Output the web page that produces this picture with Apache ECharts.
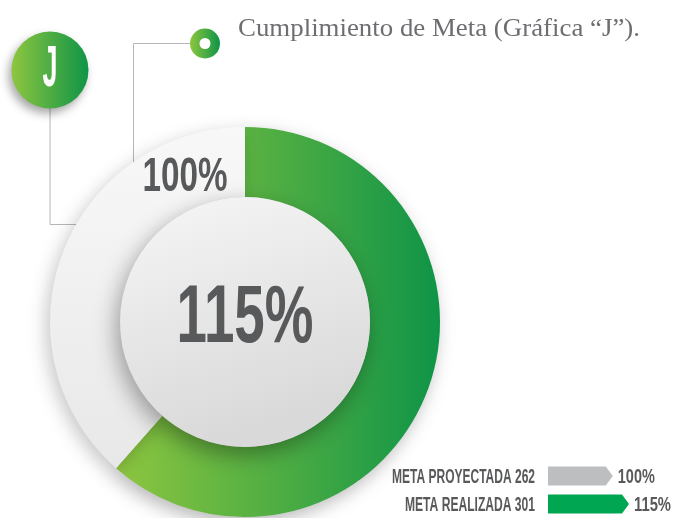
<!DOCTYPE html>
<html>
<head>
<meta charset="utf-8">
<script src="https://cdn.jsdelivr.net/npm/echarts@6/dist/echarts.min.js"></script>
<style>
  html, body { margin: 0; padding: 0; background: #ffffff; }
  #chart { width: 673px; height: 518px; }
</style>
</head>
<body>
<div id="chart"></div>
<script>
// Goal figures: projected vs. achieved
const metaNames   = ['META PROYECTADA', 'META REALIZADA'];
const metaCounts  = [262, 301];
const metaPercent = [100, 115];

// Donut split: achieved share and the remaining ring
const ringValues  = [115, 72];

const titleText  = 'Cumplimiento de Meta (Gráfica “J”).';
const badgeText  = 'J';

const GREEN_L = '#8dc63f';
const GREEN_D = '#0f9447';
const TEXT_DARK = '#58595b';

// Horizontal scale factor so a string fills a given width (condensed look)
const measureCtx = document.createElement('canvas').getContext('2d');
function fit(text, font, width) {
  measureCtx.font = font;
  return width / measureCtx.measureText(text).width;
}

function condensedText(text, x, y, font, width, color, align, z) {
  return {
    type: 'text',
    x: x, y: y,
    scaleX: fit(text, font, width),
    z: z || 10,
    silent: true,
    style: {
      text: text, x: 0, y: 0, font: font, fill: color,
      align: align || 'center', verticalAlign: 'middle',
      textAlign: align || 'center', textVerticalAlign: 'middle'
    }
  };
}

const hGrad = () => new echarts.graphic.LinearGradient(0, 0, 1, 0, [
  { offset: 0, color: GREEN_L }, { offset: 1, color: GREEN_D }
]);

const chart = echarts.init(document.getElementById('chart'), null, { renderer: 'canvas' });

const bigFont = 'bold 81px "Liberation Sans"';
const midFont = 'bold 48px "Liberation Sans"';
const capFont = 'bold 20px "Liberation Sans"';

const option = {
  animation: false,
  backgroundColor: '#ffffff',
  grid: { left: 548, top: 462, width: 108, height: 63 },
  xAxis: { type: 'value', min: 40, max: 140, show: false },
  yAxis: { type: 'category', data: metaNames, inverse: true, show: false },
  graphic: [
    // connector from the badge down to the ring
    { type: 'polyline', z: 0, silent: true,
      shape: { points: [[50, 100], [50, 224.5], [80, 224.5]] },
      style: { stroke: '#b5b6b8', lineWidth: 1, fill: null } },
    // connector from the title marker down to the ring
    { type: 'polyline', z: 0, silent: true,
      shape: { points: [[195, 43.5], [133.5, 43.5], [133.5, 170]] },
      style: { stroke: '#b5b6b8', lineWidth: 1, fill: null } },
    // badge
    { type: 'circle', z: 5, silent: true,
      shape: { cx: 50, cy: 70, r: 38.5 },
      style: { fill: hGrad(), shadowBlur: 10, shadowOffsetX: -3, shadowOffsetY: 5,
               shadowColor: 'rgba(0,0,0,0.35)' } },
    condensedText(badgeText, 50, 70, 'bold 58px "Liberation Sans"', 15, '#ffffff', 'center', 6),
    // title marker
    { type: 'circle', z: 5, silent: true,
      shape: { cx: 205, cy: 43.5, r: 15 },
      style: { fill: hGrad() } },
    { type: 'circle', z: 6, silent: true,
      shape: { cx: 205, cy: 43.5, r: 5.5 },
      style: { fill: '#ffffff' } },
    // title
    condensedText(titleText, 238, 29, '25px "Liberation Serif"', 402, '#6d6e71', 'left', 10),
    // ring and centre values
    condensedText(metaPercent[1] + '%', 245, 320, bigFont, 137, TEXT_DARK, 'center', 20),
    condensedText(metaPercent[0] + '%', 185, 178, midFont, 85, TEXT_DARK, 'center', 20)
  ],
  series: [
    {
      type: 'pie',
      z: 2,
      silent: true,
      center: [245, 322],
      radius: [125, 195],
      startAngle: 90,
      clockwise: true,
      label: { show: false },
      labelLine: { show: false },
      emphasis: { disabled: true },
      data: [
        { value: ringValues[0], itemStyle: {
            color: new echarts.graphic.LinearGradient(0, 0, 1, 0, [
              { offset: 0, color: GREEN_L }, { offset: 1, color: GREEN_D }]),
            shadowBlur: 18, shadowOffsetX: -4, shadowOffsetY: 6, shadowColor: 'rgba(0,0,0,0.28)' } },
        { value: ringValues[1], itemStyle: {
            color: new echarts.graphic.LinearGradient(0, 0, 0, 1, [
              { offset: 0, color: '#f8f8f8' }, { offset: 1, color: '#e8e8e9' }]),
            shadowBlur: 18, shadowOffsetX: -4, shadowOffsetY: 6, shadowColor: 'rgba(0,0,0,0.22)' } }
      ]
    },
    {
      // raised centre disc
      type: 'pie',
      z: 3,
      silent: true,
      center: [245, 322],
      radius: [0, 125],
      label: { show: false },
      labelLine: { show: false },
      emphasis: { disabled: true },
      data: [{ value: 1, itemStyle: {
        color: new echarts.graphic.LinearGradient(0, 0, 0.3, 1, [
          { offset: 0, color: '#f6f6f6' }, { offset: 1, color: '#d9d9da' }]),
        shadowBlur: 22, shadowOffsetX: -4, shadowOffsetY: 8, shadowColor: 'rgba(0,0,0,0.35)' } }]
    },
    {
      // arrow bars with their captions
      type: 'custom',
      z: 5,
      silent: true,
      coordinateSystem: 'cartesian2d',
      data: metaPercent.map((p, i) => [p, i]),
      renderItem: function (params, api) {
        const i = api.value(1);
        const start = api.coord([40, i]);
        const end = api.coord([api.value(0), i]);
        const h = 19, tip = 7;
        const y = start[1];
        const cat = metaNames[i] + ' ' + metaCounts[i];
        const pct = metaPercent[i] + '%';
        return {
          type: 'group',
          children: [
            { type: 'polygon',
              shape: { points: [[start[0], y - h / 2], [end[0] - tip, y - h / 2], [end[0], y],
                                [end[0] - tip, y + h / 2], [start[0], y + h / 2]] },
              style: { fill: i === 0 ? '#bcbec0' : '#00a651' } },
            { type: 'text', x: start[0] - 13, y: y + 1.5,
              scaleX: fit(cat, capFont, i === 0 ? 143 : 130),
              style: { text: cat, font: capFont, fill: TEXT_DARK, align: 'right', verticalAlign: 'middle' } },
            { type: 'text', x: end[0] + 5, y: y + 1.5,
              scaleX: fit(pct, capFont, 37),
              style: { text: pct, font: capFont, fill: TEXT_DARK, align: 'left', verticalAlign: 'middle' } }
          ]
        };
      }
    }
  ]
};

chart.setOption(option);
</script>
</body>
</html>
